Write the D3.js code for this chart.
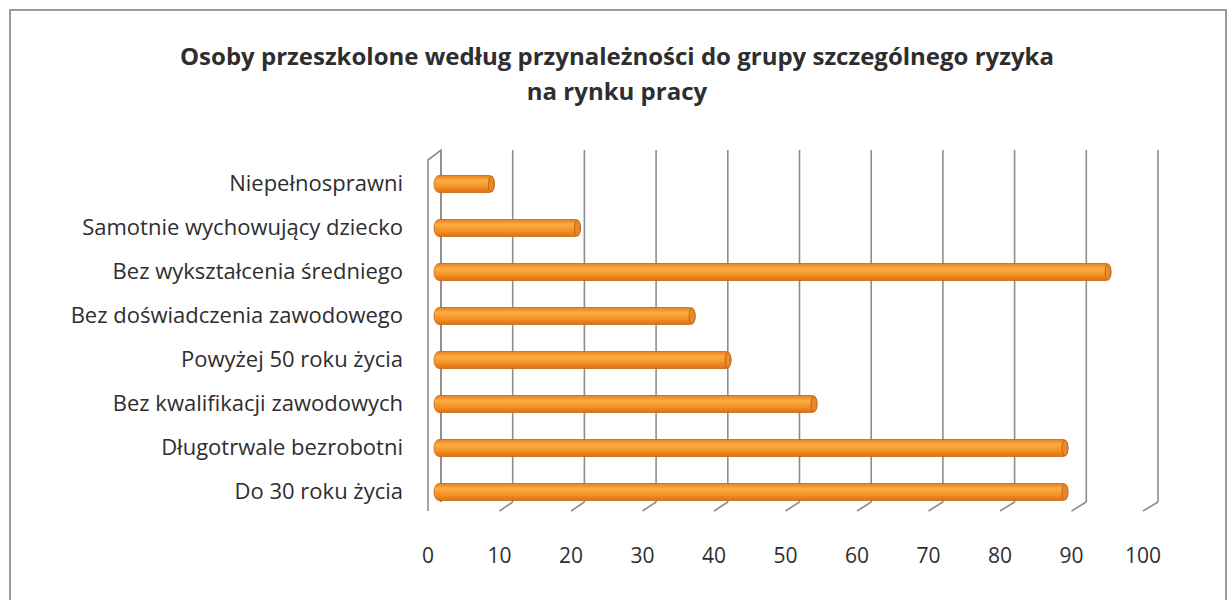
<!doctype html>
<html>
<head>
<meta charset="utf-8"/>
<script src="https://cdnjs.cloudflare.com/ajax/libs/d3/7.8.5/d3.min.js"></script>
<style>
  body { margin: 0; background: #fff; }
  text { font-family: "Open Sans", sans-serif; fill: #2e2e2e; }
  .title { font-weight: bold; font-size: 24px; }
  .cat { font-size: 22px; }
  .tick { font-size: 21px; }
  .grid { stroke: #8c8c8c; stroke-width: 1.6px; }
</style>
</head>
<body>
<svg width="1229" height="600"></svg>
<script>
var categories = [
  "Niepełnosprawni",
  "Samotnie wychowujący dziecko",
  "Bez wykształcenia średniego",
  "Bez doświadczenia zawodowego",
  "Powyżej 50 roku życia",
  "Bez kwalifikacji zawodowych",
  "Długotrwale bezrobotni",
  "Do 30 roku życia"
];
var values = [8, 20, 94, 36, 41, 53, 88, 88];
var ticks = [0, 10, 20, 30, 40, 50, 60, 70, 80, 90, 100];
var titleLines = ["Osoby przeszkolone według przynależności do grupy szczególnego ryzyka", "na rynku pracy"];

var svg = d3.select("svg");

// chart frame
svg.append("rect")
  .attr("x", 10).attr("y", 10).attr("width", 1216).attr("height", 600)
  .attr("fill", "#fff").attr("stroke", "#9a98a8").attr("stroke-width", 2);

svg.selectAll("text.title")
  .data(titleLines)
  .enter().append("text")
  .attr("class", "title")
  .attr("x", 617)
  .attr("y", (d, i) => 65 + i * 35)
  .attr("text-anchor", "middle")
  .text(d => d);

// back wall and front plane scales (fake 3d)
var xBack = d3.scaleLinear().domain([0, 100]).range([441, 1158]);
var xFront = d3.scaleLinear().domain([0, 100]).range([428, 1143]);
var xBar = d3.scaleLinear().domain([0, 100]).range([437, 1154]);
var y = d3.scaleBand().domain(categories).range([162, 514]);
var topBack = 150, botBack = 502, topFront = 160, botFront = 511;

var defs = svg.append("defs");
var grad = defs.append("linearGradient")
  .attr("id", "barGrad").attr("x1", 0).attr("x2", 0).attr("y1", 0).attr("y2", 1);
[["0%", "#e8801c"], ["30%", "#fbab45"], ["55%", "#f89b2e"], ["100%", "#dd7112"]]
  .forEach(s => grad.append("stop").attr("offset", s[0]).attr("stop-color", s[1]));

// left side wall
svg.append("path")
  .attr("class", "grid").attr("fill", "none")
  .attr("d", "M" + xFront(0) + "," + botFront + "L" + xFront(0) + "," + topFront +
    "L" + xBack(0) + "," + topBack + "L" + xBack(0) + "," + botBack);

// vertical gridlines on the back wall
svg.append("g").selectAll("line")
  .data(ticks)
  .enter().append("line")
  .attr("class", "grid")
  .attr("x1", d => xBack(d)).attr("x2", d => xBack(d))
  .attr("y1", topBack).attr("y2", botBack);

// floor tick marks
svg.append("g").selectAll("line")
  .data(ticks.slice(1))
  .enter().append("line")
  .attr("class", "grid")
  .attr("x1", d => xBack(d)).attr("y1", botBack)
  .attr("x2", d => xFront(d)).attr("y2", botFront);

// bars
var barH = 17;
var bars = svg.append("g").selectAll("g")
  .data(categories)
  .enter().append("g")
  .attr("transform", d => "translate(0," + (y(d) + y.bandwidth() / 2 - barH / 2) + ")");

bars.append("rect")
  .attr("x", xBar(0) - 3)
  .attr("width", (d, i) => xBar(values[i]) - xBar(0) + 3)
  .attr("height", barH)
  .attr("rx", 5).attr("ry", barH / 2)
  .attr("fill", "url(#barGrad)")
  .attr("stroke", "#c9650f").attr("stroke-width", 0.8);

bars.append("ellipse")
  .attr("cx", (d, i) => xBar(values[i]) - 3)
  .attr("cy", barH / 2)
  .attr("rx", 3).attr("ry", barH / 2 - 0.5)
  .attr("fill", "#e8882a").attr("stroke", "#b8600f").attr("stroke-width", 0.8);

// category labels
svg.append("g").selectAll("text")
  .data(categories)
  .enter().append("text")
  .attr("class", "cat")
  .attr("x", 403)
  .attr("y", d => y(d) + y.bandwidth() / 2 + 7)
  .attr("text-anchor", "end")
  .text(d => d);

// value axis labels
svg.append("g").selectAll("text")
  .data(ticks)
  .enter().append("text")
  .attr("class", "tick")
  .attr("x", d => xFront(d))
  .attr("y", 563)
  .attr("text-anchor", "middle")
  .text(d => d);
</script>
</body>
</html>
